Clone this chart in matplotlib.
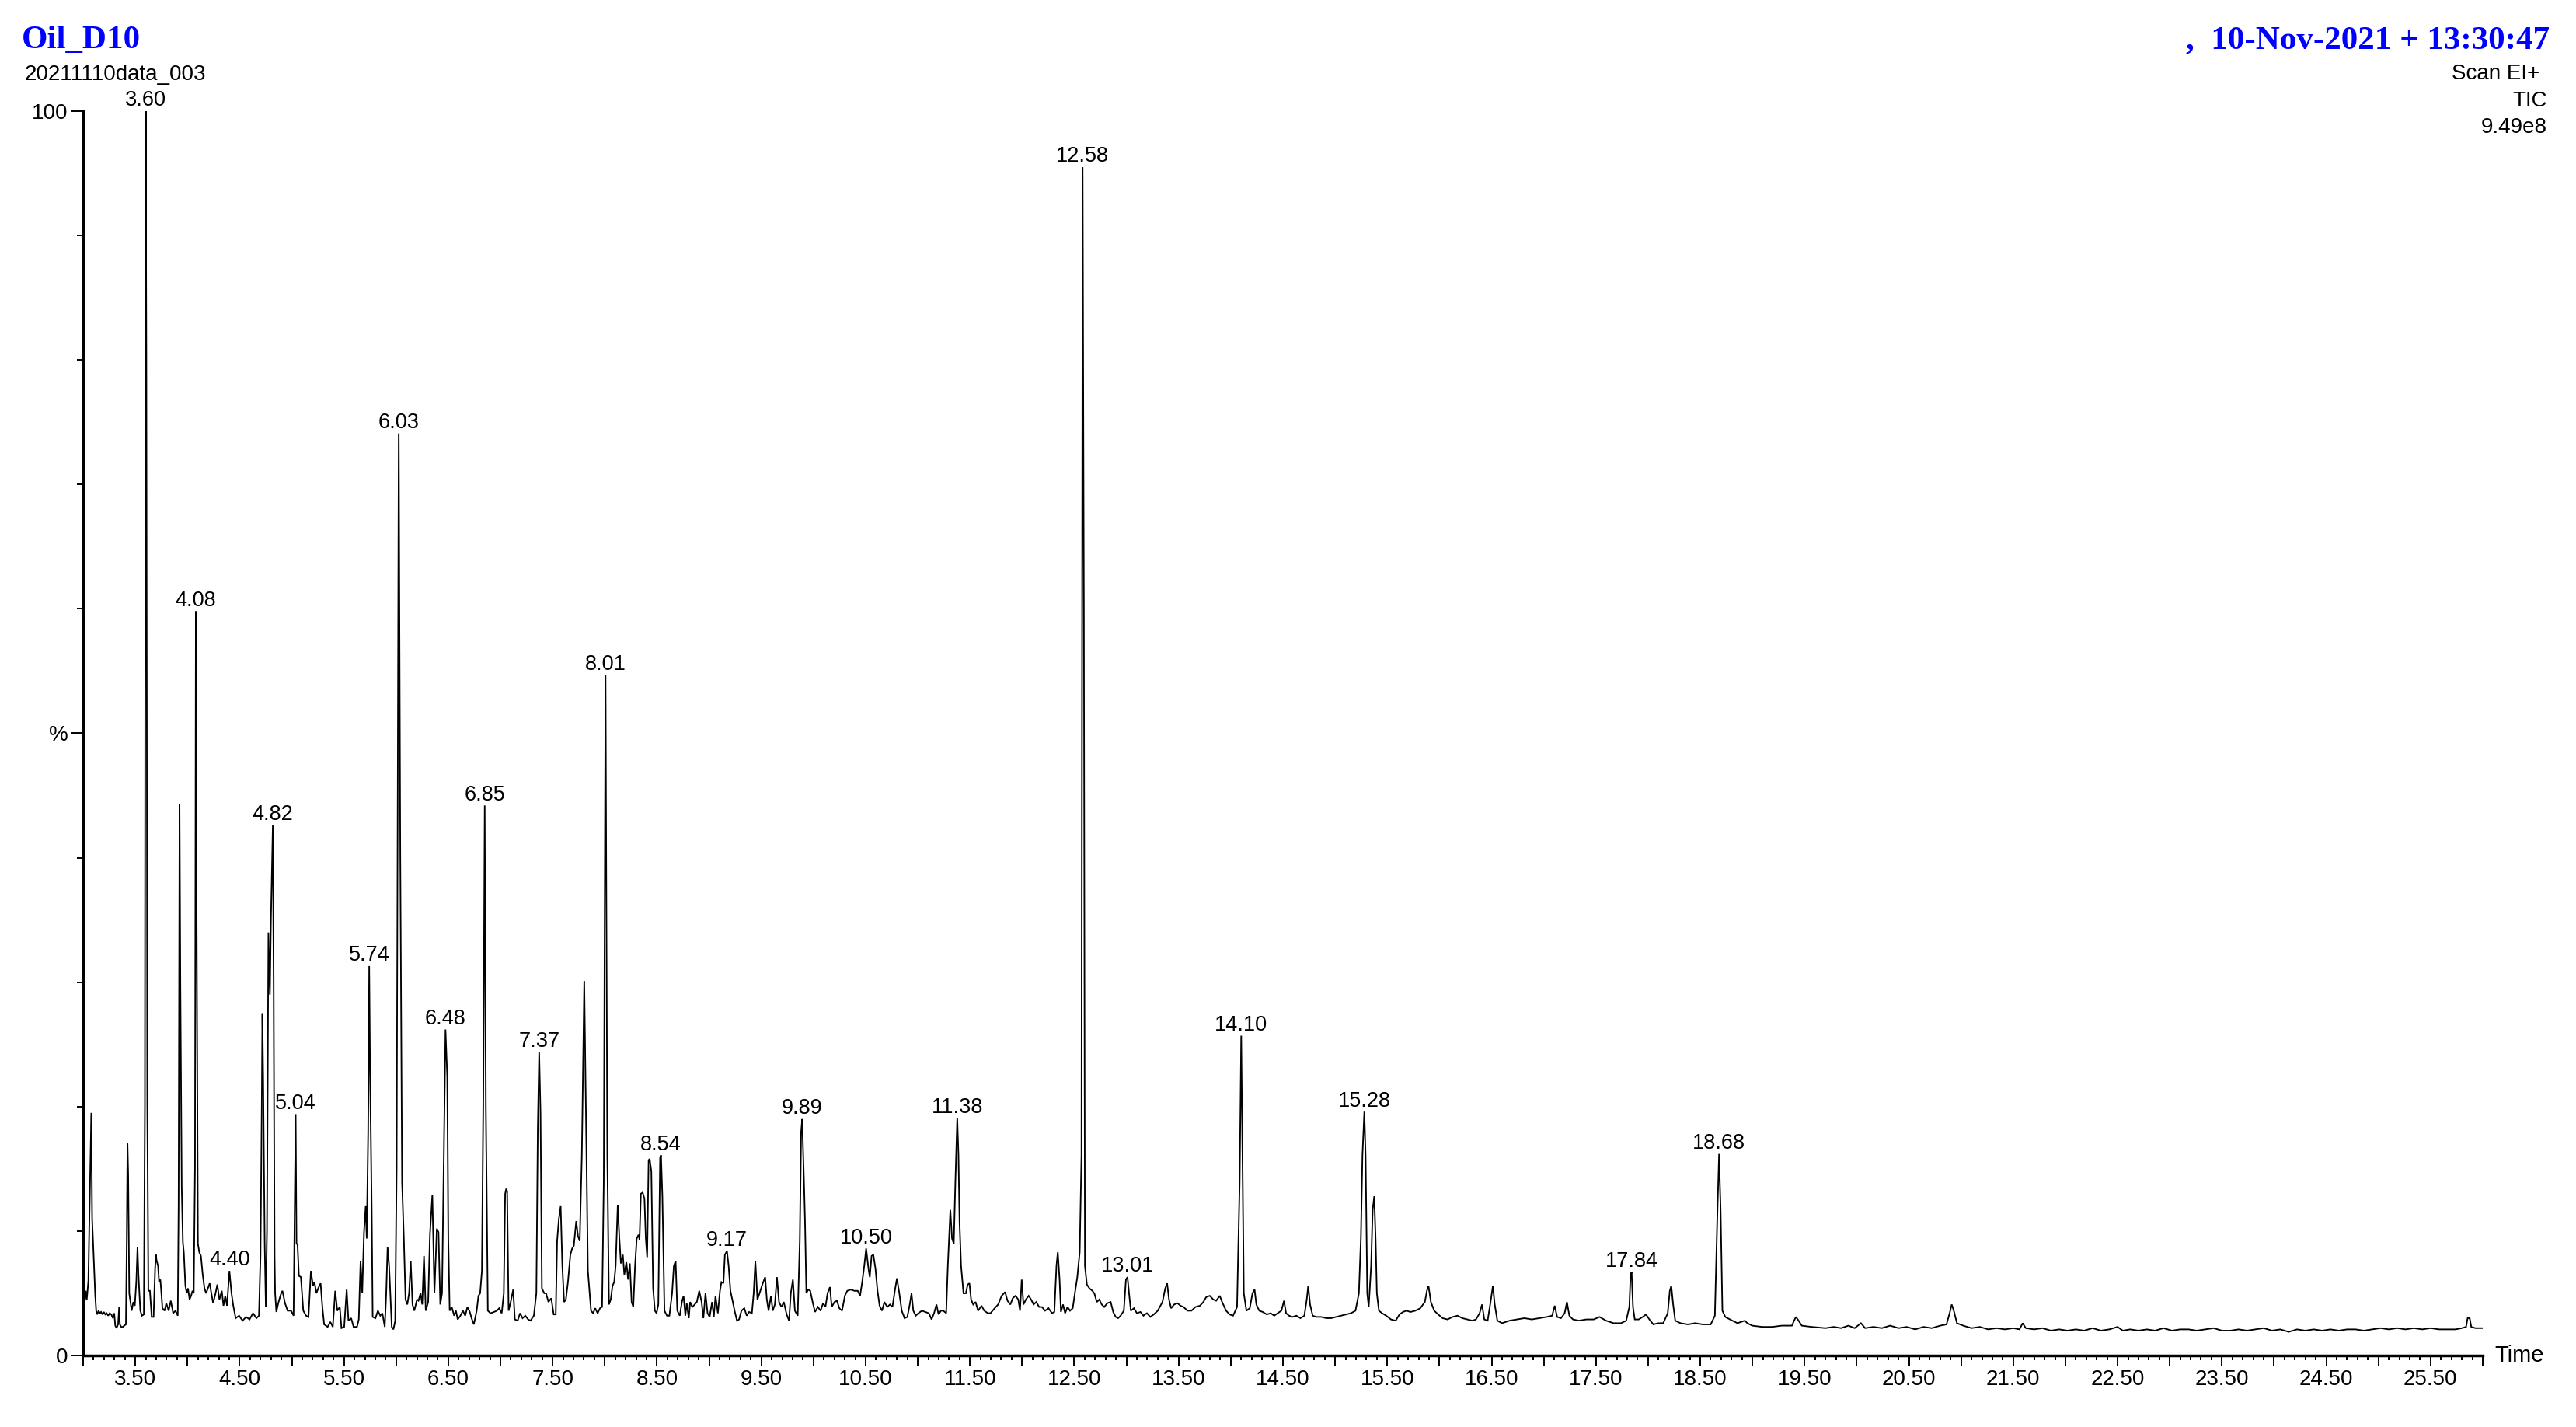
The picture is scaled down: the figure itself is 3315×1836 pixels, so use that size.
import matplotlib
matplotlib.use("Agg")
import matplotlib.pyplot as plt
import numpy as np

plt.rcParams["font.family"] = ["Liberation Sans", "DejaVu Sans"]

# ---------------------- DATA (time in min, intensity in %) ----------------------
early = [
    (3.000, 0.0), (3.004, 9.7), (3.010, 9.4), (3.016, 4.4), (3.025, 5.2), (3.035, 4.5),
    (3.050, 6.0), (3.062, 12.0), (3.078, 19.5), (3.086, 11.0), (3.109, 6.3), (3.116, 4.8),
    (3.125, 3.6), (3.135, 3.3), (3.148, 3.6), (3.160, 3.4), (3.172, 3.5), (3.185, 3.3),
    (3.198, 3.5), (3.212, 3.3), (3.225, 3.4), (3.240, 3.2), (3.255, 3.4), (3.270, 3.3),
    (3.285, 3.0), (3.298, 3.4), (3.308, 2.4), (3.320, 2.2), (3.335, 2.5), (3.345, 3.9),
    (3.352, 2.5), (3.365, 2.3), (3.380, 2.3), (3.395, 2.4), (3.410, 2.5), (3.418, 9.0),
    (3.425, 17.1), (3.432, 14.5), (3.442, 5.0), (3.465, 3.6), (3.481, 4.3), (3.495, 4.0),
    (3.510, 6.0), (3.521, 8.7), (3.530, 6.5), (3.548, 3.6), (3.564, 3.2), (3.582, 3.3),
    (3.592, 20.0), (3.600, 100.0), (3.606, 80.0), (3.615, 20.0), (3.625, 5.2), (3.640, 5.2),
    (3.657, 3.1), (3.675, 3.1), (3.690, 7.0), (3.697, 8.1), (3.705, 7.6), (3.718, 7.2),
    (3.728, 5.9), (3.740, 6.1), (3.750, 5.0), (3.760, 3.8), (3.780, 3.6), (3.797, 4.2),
    (3.820, 3.6), (3.840, 4.4), (3.863, 3.4), (3.885, 3.6), (3.907, 3.2), (3.915, 12.0),
    (3.924, 44.3), (3.932, 30.0), (3.945, 13.5), (3.956, 9.1), (3.965, 8.3), (3.980, 5.6),
    (3.993, 5.0), (4.005, 5.4), (4.020, 4.5), (4.035, 4.8), (4.048, 5.2), (4.060, 5.0),
    (4.072, 15.0), (4.080, 59.8), (4.088, 35.0), (4.100, 9.0), (4.113, 8.3), (4.129, 8.0),
    (4.146, 6.5), (4.163, 5.4), (4.179, 5.0), (4.213, 5.8), (4.229, 5.0), (4.246, 4.2),
    (4.269, 5.0), (4.286, 5.7), (4.306, 4.5), (4.329, 5.2), (4.345, 4.0), (4.362, 4.8),
    (4.379, 4.0), (4.402, 6.8), (4.422, 5.0), (4.439, 4.0), (4.462, 3.0), (4.495, 3.2),
    (4.528, 2.8), (4.562, 3.1), (4.595, 2.9), (4.628, 3.4), (4.661, 3.0), (4.685, 3.2),
    (4.700, 8.0), (4.712, 20.0), (4.718, 27.5), (4.726, 22.0), (4.740, 9.0), (4.751, 3.9),
    (4.762, 10.0), (4.776, 34.0), (4.790, 29.0), (4.800, 35.0), (4.818, 42.6), (4.826, 30.0),
    (4.835, 8.0), (4.840, 5.0), (4.852, 3.5), (4.870, 4.2), (4.894, 4.9), (4.910, 5.2),
    (4.935, 4.2), (4.960, 3.6), (4.993, 3.6), (5.017, 3.2), (5.028, 12.0), (5.037, 19.4),
    (5.045, 9.0), (5.055, 8.9), (5.068, 6.4), (5.087, 6.3), (5.110, 3.6), (5.137, 3.2),
    (5.160, 3.1), (5.183, 6.8), (5.203, 5.6), (5.217, 5.9), (5.236, 5.0), (5.253, 5.4),
    (5.276, 5.8), (5.293, 3.9), (5.310, 2.5), (5.343, 2.3), (5.369, 2.7), (5.393, 2.3),
    (5.416, 5.2), (5.436, 3.6), (5.460, 3.9), (5.476, 2.2), (5.502, 2.3), (5.526, 5.3),
    (5.543, 2.8), (5.569, 3.0), (5.592, 2.3), (5.625, 2.3), (5.642, 2.9), (5.659, 7.6),
    (5.675, 5.0), (5.692, 9.9), (5.708, 12.0), (5.718, 9.4), (5.732, 18.0), (5.742, 31.3),
    (5.750, 23.0), (5.766, 11.7), (5.775, 3.1), (5.802, 3.0), (5.825, 3.6), (5.848, 3.2),
    (5.868, 3.4), (5.891, 2.3), (5.905, 5.0), (5.918, 8.7), (5.933, 7.2), (5.958, 2.3),
    (5.974, 2.1), (5.991, 2.8), (6.005, 15.0), (6.025, 74.1), (6.040, 40.0), (6.057, 13.9),
    (6.074, 9.4), (6.090, 4.5), (6.107, 4.1), (6.124, 5.0), (6.140, 7.6), (6.157, 4.1),
    (6.174, 3.6), (6.200, 4.5), (6.214, 4.4), (6.234, 5.0), (6.250, 4.1), (6.267, 8.0),
    (6.284, 3.6), (6.307, 4.3), (6.324, 9.7), (6.347, 12.9), (6.367, 5.0), (6.390, 10.2),
    (6.406, 9.9), (6.423, 4.1), (6.440, 5.0), (6.460, 18.0), (6.473, 26.2), (6.490, 22.4),
    (6.500, 9.4), (6.513, 3.6), (6.533, 3.9), (6.556, 3.2), (6.573, 3.6), (6.590, 2.9),
    (6.616, 3.2), (6.640, 3.6), (6.662, 3.2), (6.683, 3.9), (6.706, 3.5), (6.723, 3.0),
    (6.745, 2.5), (6.772, 3.6), (6.789, 4.8), (6.805, 5.0), (6.822, 6.8), (6.835, 20.0),
    (6.849, 44.2), (6.860, 20.0), (6.879, 3.6), (6.905, 3.4), (6.938, 3.5), (6.965, 3.6),
    (6.988, 3.8), (7.012, 3.4), (7.032, 5.0), (7.045, 13.0), (7.055, 13.4), (7.064, 13.2),
    (7.078, 3.6), (7.098, 4.3), (7.122, 5.3), (7.138, 2.9), (7.165, 2.8), (7.188, 3.4),
    (7.212, 3.0), (7.238, 3.2), (7.265, 2.9), (7.288, 2.8), (7.320, 3.2), (7.344, 5.0),
    (7.358, 18.4), (7.371, 24.4), (7.384, 19.5), (7.397, 5.4), (7.420, 5.0), (7.437, 5.0),
    (7.460, 4.3), (7.487, 4.6), (7.510, 3.3), (7.530, 3.3), (7.543, 9.2), (7.560, 11.0),
    (7.577, 12.0), (7.593, 7.2), (7.610, 4.3), (7.627, 4.5), (7.647, 5.9), (7.670, 8.1),
    (7.687, 8.6), (7.703, 8.8), (7.726, 10.8), (7.743, 9.6), (7.760, 9.2), (7.780, 16.1),
    (7.803, 30.1), (7.821, 18.4), (7.838, 6.8), (7.855, 5.0), (7.868, 3.6), (7.888, 3.4),
    (7.908, 3.8), (7.931, 3.4), (7.954, 3.8), (7.974, 3.9), (7.990, 13.9), (8.007, 54.7),
    (8.024, 16.1), (8.040, 4.1), (8.057, 4.5), (8.074, 5.6), (8.090, 5.9), (8.104, 7.2),
    (8.124, 12.1), (8.140, 9.4), (8.154, 7.4), (8.173, 8.1), (8.187, 6.5), (8.207, 7.5),
    (8.223, 6.1), (8.240, 7.4), (8.257, 4.3), (8.273, 3.9), (8.290, 7.2), (8.306, 9.4),
    (8.323, 9.7), (8.333, 9.3), (8.346, 13.0), (8.363, 13.1), (8.380, 12.6), (8.393, 9.4),
    (8.406, 7.9), (8.420, 15.7), (8.430, 15.8), (8.446, 14.8), (8.463, 5.4), (8.480, 3.6),
    (8.496, 3.4), (8.513, 4.1), (8.530, 15.9), (8.539, 16.1), (8.552, 12.8), (8.572, 3.6),
    (8.596, 3.2), (8.619, 3.2), (8.645, 5.0), (8.662, 7.2), (8.679, 7.6), (8.695, 3.6),
    (8.719, 3.2), (8.739, 4.3), (8.755, 4.8), (8.772, 3.2), (8.785, 4.2), (8.805, 3.0),
    (8.818, 4.3), (8.838, 3.9), (8.862, 4.1), (8.882, 4.3), (8.905, 5.2), (8.928, 4.3),
    (8.945, 3.0), (8.965, 5.0), (8.985, 3.4), (9.005, 3.1), (9.028, 4.3), (9.045, 3.1),
    (9.061, 4.8), (9.084, 3.4), (9.104, 5.2), (9.118, 5.9), (9.137, 5.8), (9.151, 8.1),
    (9.171, 8.4), (9.187, 7.2), (9.204, 5.2), (9.227, 4.3), (9.244, 3.6), (9.267, 2.8),
    (9.287, 2.9), (9.310, 3.6), (9.337, 3.8), (9.360, 3.2), (9.383, 3.5), (9.410, 3.4),
    (9.427, 5.0), (9.443, 7.6), (9.463, 4.5), (9.483, 5.0), (9.510, 5.7), (9.537, 6.3),
    (9.553, 4.5), (9.570, 3.6), (9.593, 4.8), (9.610, 3.6), (9.630, 4.1), (9.650, 6.3),
    (9.670, 4.3), (9.693, 3.9), (9.716, 4.3), (9.743, 3.3), (9.766, 2.8), (9.783, 5.0),
    (9.803, 6.1), (9.822, 3.6), (9.849, 3.2), (9.869, 9.2), (9.882, 18.0), (9.892, 19.0),
    (9.909, 14.0), (9.919, 10.8), (9.932, 5.0), (9.949, 5.3), (9.969, 5.2), (9.992, 4.3),
]

middle = [
    (10.015, 3.5), (10.042, 3.9), (10.068, 3.6), (10.092, 4.2), (10.115, 3.9), (10.135, 5.0),
    (10.158, 5.5), (10.175, 3.9), (10.201, 4.3), (10.225, 4.4), (10.248, 3.8), (10.274, 3.6),
    (10.301, 4.8), (10.324, 5.2), (10.358, 5.3), (10.391, 5.2), (10.424, 5.2), (10.447, 4.8),
    (10.467, 5.9), (10.487, 7.2), (10.505, 8.6), (10.527, 7.0), (10.540, 6.3), (10.557, 8.0),
    (10.574, 8.1), (10.594, 7.0), (10.614, 5.2), (10.634, 4.0), (10.657, 3.6), (10.680, 4.3),
    (10.707, 3.9), (10.733, 4.1), (10.757, 3.9), (10.780, 5.2), (10.800, 6.2), (10.823, 5.0),
    (10.846, 3.6), (10.873, 3.0), (10.900, 3.1), (10.923, 4.1), (10.940, 5.0), (10.957, 3.6),
    (10.980, 3.2), (11.006, 3.4), (11.039, 3.6), (11.072, 3.5), (11.106, 3.4), (11.132, 2.9),
    (11.156, 3.4), (11.179, 4.1), (11.199, 3.3), (11.222, 3.6), (11.245, 3.6), (11.272, 3.4),
    (11.288, 7.2), (11.312, 11.7), (11.328, 9.4), (11.345, 9.0), (11.360, 13.9), (11.378, 19.1),
    (11.390, 16.1), (11.400, 10.8), (11.415, 7.2), (11.438, 5.0), (11.461, 5.0), (11.478, 5.7),
    (11.495, 5.8), (11.511, 4.5), (11.531, 4.1), (11.554, 4.3), (11.578, 3.6), (11.611, 4.0),
    (11.637, 3.6), (11.671, 3.4), (11.697, 3.4), (11.737, 3.8), (11.770, 4.1), (11.804, 4.8),
    (11.837, 5.1), (11.860, 4.4), (11.887, 4.1), (11.910, 4.6), (11.937, 4.8), (11.963, 4.5),
    (11.980, 3.6), (11.996, 6.1), (12.013, 4.1), (12.036, 4.5), (12.063, 4.8), (12.086, 4.5),
    (12.110, 4.1), (12.136, 4.3), (12.163, 3.9), (12.190, 3.9), (12.220, 3.6), (12.253, 3.8),
    (12.286, 3.4), (12.309, 3.5), (12.329, 7.2), (12.342, 8.3), (12.359, 6.1), (12.372, 3.5),
    (12.392, 4.1), (12.412, 3.4), (12.435, 3.9), (12.459, 3.6), (12.485, 3.8), (12.509, 5.2),
    (12.529, 6.3), (12.552, 8.3), (12.569, 16.1), (12.580, 95.5), (12.592, 60.0), (12.602, 7.2),
    (12.621, 5.7), (12.645, 5.4), (12.673, 5.2), (12.692, 5.0), (12.716, 4.3), (12.740, 4.5),
    (12.763, 4.1), (12.787, 3.9), (12.816, 4.2), (12.849, 4.3), (12.873, 3.5), (12.897, 3.1),
    (12.920, 3.0), (12.944, 3.2), (12.975, 3.6), (12.995, 6.1), (13.010, 6.3), (13.025, 5.0),
    (13.042, 3.6), (13.072, 3.8), (13.100, 3.4), (13.134, 3.5), (13.163, 3.2), (13.196, 3.4),
    (13.229, 3.1), (13.262, 3.3), (13.300, 3.6), (13.345, 4.3), (13.372, 5.4), (13.390, 5.8),
    (13.408, 4.5), (13.428, 3.8), (13.457, 4.1), (13.490, 4.2), (13.518, 4.0), (13.547, 3.9),
    (13.585, 3.6), (13.623, 3.6), (13.661, 3.9), (13.704, 4.0), (13.737, 4.3), (13.765, 4.7),
    (13.799, 4.8), (13.832, 4.5), (13.860, 4.4), (13.894, 4.8), (13.917, 4.3), (13.955, 3.6),
    (13.989, 3.3), (14.022, 3.2), (14.060, 3.9), (14.085, 13.9), (14.100, 25.7), (14.112, 16.1),
    (14.125, 5.0), (14.150, 3.6), (14.182, 3.8), (14.208, 5.0), (14.228, 5.3), (14.245, 4.1),
    (14.273, 3.6), (14.306, 3.5), (14.345, 3.3), (14.383, 3.4), (14.416, 3.2), (14.449, 3.4),
    (14.485, 3.6), (14.510, 4.4), (14.530, 3.4), (14.558, 3.2), (14.591, 3.1), (14.629, 3.2),
    (14.667, 3.0), (14.705, 3.2), (14.728, 4.5), (14.742, 5.6), (14.760, 4.1), (14.785, 3.2),
    (14.820, 3.1), (14.867, 3.1), (14.915, 3.0), (14.962, 3.0), (15.010, 3.1), (15.057, 3.2),
    (15.104, 3.3), (15.152, 3.4), (15.195, 3.6), (15.228, 5.0), (15.247, 9.4), (15.262, 16.1),
    (15.280, 19.6), (15.292, 16.1), (15.308, 5.0), (15.322, 3.9), (15.345, 7.2), (15.360, 11.7),
    (15.375, 12.8), (15.388, 9.4), (15.400, 5.0), (15.420, 3.6), (15.450, 3.4), (15.490, 3.2),
    (15.535, 2.9), (15.580, 2.8), (15.617, 3.3), (15.650, 3.5), (15.684, 3.6), (15.722, 3.5),
    (15.769, 3.6), (15.816, 3.8), (15.860, 4.3), (15.880, 5.2), (15.895, 5.6), (15.918, 4.3),
    (15.950, 3.6), (15.988, 3.3),
]

late = [
    (16.030, 3.0), (16.078, 2.9), (16.125, 3.1), (16.173, 3.2), (16.220, 3.0), (16.268, 2.9),
    (16.315, 2.8), (16.350, 2.9), (16.385, 3.4), (16.408, 4.1), (16.430, 2.9), (16.462, 2.8),
    (16.490, 4.3), (16.512, 5.6), (16.530, 4.1), (16.555, 2.8), (16.600, 2.6), (16.672, 2.8),
    (16.743, 2.9), (16.814, 3.0), (16.885, 2.9), (16.956, 3.0), (17.028, 3.1), (17.080, 3.2),
    (17.105, 4.0), (17.128, 3.1), (17.165, 3.0), (17.200, 3.4), (17.222, 4.3), (17.245, 3.2),
    (17.280, 2.9), (17.336, 2.8), (17.407, 2.9), (17.478, 2.9), (17.535, 3.1), (17.597, 2.8),
    (17.668, 2.6), (17.740, 2.6), (17.790, 2.8), (17.820, 3.9), (17.832, 6.5), (17.842, 6.7),
    (17.855, 3.9), (17.872, 2.9), (17.910, 2.9), (17.948, 3.1), (17.980, 3.3), (18.012, 2.9),
    (18.050, 2.5), (18.098, 2.6), (18.145, 2.6), (18.188, 3.4), (18.208, 5.2), (18.222, 5.6),
    (18.240, 4.1), (18.260, 2.8), (18.310, 2.6), (18.381, 2.5), (18.452, 2.6), (18.523, 2.5),
    (18.600, 2.5), (18.640, 3.2), (18.665, 11.7), (18.680, 16.2), (18.695, 11.7), (18.712, 3.6),
    (18.740, 3.1), (18.785, 2.9), (18.856, 2.6), (18.927, 2.8), (18.951, 2.6), (18.998, 2.4),
    (19.093, 2.3), (19.188, 2.3), (19.283, 2.4), (19.378, 2.4), (19.416, 3.1), (19.435, 2.9),
    (19.473, 2.4), (19.568, 2.3), (19.700, 2.2),
]

tail = [
    (19.78, 2.3), (19.85, 2.2), (19.92, 2.4), (19.98, 2.2), (20.04, 2.6), (20.08, 2.2),
    (20.16, 2.3), (20.24, 2.2), (20.32, 2.4), (20.40, 2.2), (20.48, 2.3), (20.56, 2.1),
    (20.64, 2.3), (20.72, 2.2), (20.80, 2.4), (20.86, 2.5), (20.89, 3.4), (20.91, 4.1),
    (20.93, 3.6), (20.96, 2.6), (21.02, 2.4), (21.10, 2.2), (21.18, 2.3), (21.26, 2.1),
    (21.34, 2.2), (21.42, 2.1), (21.50, 2.2), (21.56, 2.1), (21.59, 2.6), (21.62, 2.2),
    (21.70, 2.1), (21.78, 2.2), (21.86, 2.0), (21.94, 2.1), (22.02, 2.0), (22.10, 2.1),
    (22.18, 2.0), (22.26, 2.2), (22.34, 2.0), (22.42, 2.1), (22.50, 2.3), (22.55, 2.0),
    (22.62, 2.1), (22.70, 2.0), (22.78, 2.1), (22.86, 2.0), (22.94, 2.2), (23.02, 2.0),
    (23.10, 2.1), (23.18, 2.1), (23.26, 2.0), (23.34, 2.1), (23.42, 2.2), (23.50, 2.0),
    (23.58, 2.0), (23.66, 2.1), (23.74, 2.0), (23.82, 2.1), (23.90, 2.2), (23.98, 2.0),
    (24.06, 2.1), (24.14, 1.9), (24.22, 2.1), (24.30, 2.0), (24.38, 2.1), (24.46, 2.0),
    (24.54, 2.1), (24.62, 2.0), (24.70, 2.1), (24.78, 2.1), (24.86, 2.0), (24.94, 2.1),
    (25.02, 2.2), (25.10, 2.1), (25.18, 2.2), (25.26, 2.1), (25.34, 2.2), (25.42, 2.1),
    (25.50, 2.2), (25.58, 2.1), (25.66, 2.1), (25.74, 2.1), (25.80, 2.2), (25.84, 2.3),
    (25.855, 3.0), (25.875, 3.0), (25.89, 2.3), (25.93, 2.2), (25.97, 2.2), (26.00, 2.2),
]

peak_labels = ["3.60", "4.08", "4.40", "4.82", "5.04", "5.74", "6.03", "6.48", "6.85",
               "7.37", "8.01", "8.54", "9.17", "9.89", "10.50", "11.38", "12.58", "13.01",
               "14.10", "15.28", "17.84", "18.68"]

sample_name = "Oil_D10"
data_file = "20211110data_003"
run_stamp = ",  10-Nov-2021 + 13:30:47"
scan_info = ["Scan EI+", "TIC", "9.49e8"]

# ---------------------- FIGURE ----------------------
W, H, DPI = 3316, 1836, 100
trace = np.array(early + middle + late + tail)
rt, tic = trace[:, 0], trace[:, 1]

fig = plt.figure(figsize=(W / DPI, H / DPI), dpi=DPI)
ax = fig.add_axes([107 / W, 1 - 1744 / H, (3195 - 107) / W, (1744 - 143) / H])
ax.plot(rt, tic, color="black", lw=1.35, solid_joinstyle="miter")
ax.set_xlim(3.0, 26.0)
ax.set_ylim(0, 100)

for side in ("top", "right"):
    ax.spines[side].set_visible(False)
ax.spines["bottom"].set_linewidth(2.5)
ax.spines["left"].set_linewidth(2.2)

# x axis: major tick every 0.5 min, labels only on the x.50 ticks
xmaj = np.arange(3.0, 26.01, 0.5)
ax.set_xticks(xmaj)
ax.set_xticklabels([f"{v:.2f}" if abs(v % 1 - 0.5) < 1e-6 else "" for v in xmaj])
ax.set_xticks(np.arange(3.0, 26.01, 0.1), minor=True)
ax.tick_params(axis="x", which="major", length=9, width=1.4, pad=4, labelsize=20)
ax.tick_params(axis="x", which="minor", length=4, width=1.4)

# y axis: 0 / % / 100
ax.set_yticks([0, 50, 100])
ax.set_yticklabels(["0", "%", "100"])
ax.set_yticks(np.arange(10, 100, 10), minor=True)
ax.tick_params(axis="y", which="major", length=11, width=1.4, pad=3, labelsize=20)
ax.tick_params(axis="y", which="minor", length=6, width=1.4)

# peak labels on the apex of each named peak
for lbl in peak_labels:
    t = float(lbl)
    near = np.abs(rt - t) <= 0.03
    i = np.argmax(np.where(near, tic, -1))
    ax.annotate(lbl, (rt[i], tic[i]), xytext=(0, 0.5), textcoords="offset points",
                ha="center", va="bottom", fontsize=19.5, annotation_clip=False)

fig.text(3210 / W, 1 - 1744 / H, "Time", ha="left", va="center", fontsize=21)

# header
fig.text(28 / W, 1 - 62 / H, sample_name, ha="left", va="baseline", color="blue",
         family="Liberation Serif", weight="bold", fontsize=31)
fig.text(3281 / W, 1 - 62 / H, run_stamp, ha="right", va="baseline", color="blue",
         family="Liberation Serif", weight="bold", fontsize=31)
fig.text(32 / W, 1 - 103 / H, data_file, ha="left", va="baseline", fontsize=20)
for txt, xr, yb in zip(scan_info, [3268, 3278, 3278], [102, 137, 171]):
    fig.text(xr / W, 1 - yb / H, txt, ha="right", va="baseline", fontsize=20)

fig.savefig("out.png", dpi=DPI)
